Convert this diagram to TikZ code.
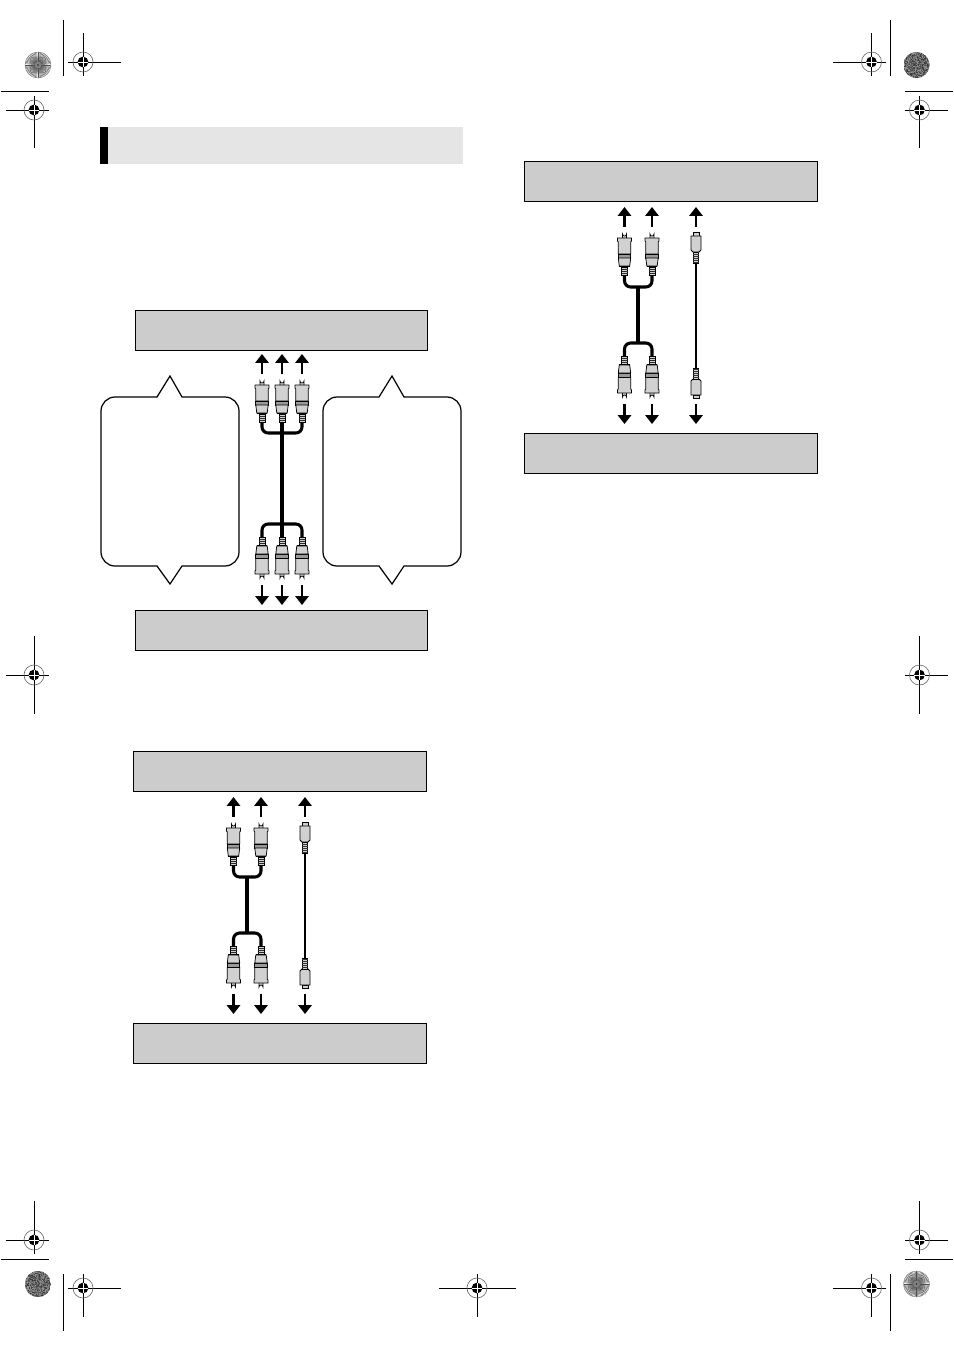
\documentclass[tikz,border=0pt]{standalone}
\usetikzlibrary{arrows.meta}

\definecolor{boxgray}{gray}{0.80}
\definecolor{bargray}{gray}{0.90}
\definecolor{plugmid}{gray}{0.60}
\definecolor{pluglight}{gray}{0.82}

\tikzset{
  panel/.style={draw=black, line width=0.65pt, fill=boxgray, minimum width=166.4pt, minimum height=22.6pt, inner sep=0pt, outer sep=0pt},
  flow/.style={line width=1.7pt, -{Triangle[length=5pt,width=7.4pt]}},
  cable/.style={line width=1.75pt, rounded corners=3.5pt},
  thincable/.style={line width=0.95pt},
  callout/.style={draw=black, line width=0.7pt},
  crop/.style={line width=0.55pt},
  plugpart/.style={draw=black, line width=0.42pt},
  rcaplug/.pic={
    \coordinate (-tail) at (0,43);
    \coordinate (-tip) at (0,-5);
    \coordinate (-head) at (0,-25);
    \filldraw[plugpart, fill=pluglight] (-2,6.5) -- (-2,2) arc (180:0:2) -- (2,6.5) -- cycle;
    \filldraw[plugpart, fill=pluglight] (-7,6) -- (7,6) -- (7,9) -- (6.2,10) -- (6.2,22) -- (-6.2,22) -- (-6.2,10) -- (-7,9) -- cycle;
    \filldraw[plugpart, fill=plugmid] (-6.2,22) rectangle (6.2,26);
    \filldraw[plugpart, fill=pluglight] (-6.2,26) -- (6.2,26) -- (5.2,34) -- (-5.2,34) -- cycle;
    \fill[black] (-5.2,34) rectangle (5.2,35);
    \filldraw[plugpart, fill=pluglight] (-3,35) rectangle (3,43);
    \foreach \hatch in {37,39,41}
      \draw[black!85, line width=0.5pt] (-3,\hatch) -- (3,\hatch);
  },
  splug/.pic={
    \coordinate (-tail) at (0,31);
    \coordinate (-tip) at (0,-5);
    \coordinate (-head) at (0,-25);
    \filldraw[plugpart, fill=pluglight] (-3,4) -- (-3,0.5) -- (3,0.5) -- (3,4) -- cycle;
    \filldraw[plugpart, fill=pluglight] (-5,4) -- (5,4) -- (5,18) -- (3,20) -- (-3,20) -- (-5,18) -- cycle;
    \filldraw[plugpart, fill=pluglight] (-2.6,20) rectangle (2.6,31);
    \foreach \hatch in {22,24,26,28,30}
      \draw[black!80, line width=0.5pt] (-2.6,\hatch) -- (2.6,\hatch);
  },
  target/.pic={
    \draw[black!60, line width=0.35pt] (0,0) circle (10);
    \fill[black] (0,0) circle (5.4);
    \draw[white, line width=0.25pt] (-5.4,0) -- (5.4,0) (0,-5.4) -- (0,5.4);
  },
  sunburst/.pic={
    \fill[white] (0,0) circle (13);
    \foreach \ang in {0,6,...,354}
      \draw[black!70, line width=0.25pt] (0,0) -- (\ang:13);
    \fill[black!50] (0,0) circle (3.5);
    \fill[black!85] (0,0) circle (0.8);
    \draw[black!45, line width=0.25pt] (0,0) circle (13);
  },
  noisedisc/.pic={
    \begin{scope}
      \clip (0,0) circle (13);
      \fill[black!60] (-13,-13) rectangle (13,13);
      \foreach \col in {-13,...,12}
        \foreach \row in {-13,...,12} {
          \pgfmathsetmacro{\shade}{40+random(0,40)}
          \fill[black!\shade] (\col,\row) rectangle ++(1.05,1.05);
        }
    \end{scope}
  }
}

\begin{document}
\begin{tikzpicture}[x=0.02cm, y=-0.02cm]
  \pgfmathsetseed{7}
  \useasboundingbox (0,0) rectangle (954,1350);

  % Heading bar
  \fill[bargray] (108,127) rectangle (463,164);
  \fill[black] (100,127) rectangle (108,164);

  % Corner discs
  \pic at (38,65) {sunburst};
  \pic at (916.5,1284) {sunburst};
  \pic at (916.5,65) {noisedisc};
  \pic at (38,1284) {noisedisc};

  % Crop lines
  \foreach \xa/\ya/\xb/\yb in {63/20/63/76, 1/91/49/91, 890.5/20/890.5/76, 905/91/953/91,
      1/1259/49/1259, 905/1259/953/1259, 63/1274/63/1331, 890.5/1274/890.5/1331,
      68/62/121/62, 83/33/83/76, 6/110/49/110, 34/96/34/148,
      833/62/886/62, 871.5/33/871.5/76, 905/110/948/110, 919.5/96/919.5/148,
      6/675/49/675, 34/636/34/714, 905/675/948/675, 919.5/636/919.5/714,
      6/1240/49/1240, 34/1201/34/1254, 905/1240/948/1240, 919.5/1201/919.5/1254,
      68/1288/121/1288, 83/1274/83/1317, 833/1288/886/1288, 871.5/1274/871.5/1317,
      439/1288/516/1288, 477/1274/477/1317}
    \draw[crop] (\xa,\ya) -- (\xb,\yb);

  % Registration targets
  \foreach \xa/\ya in {83/62, 34/110, 871.5/62, 919.5/110, 34/675, 919.5/675,
      34/1240, 919.5/1240, 83/1288, 871.5/1288, 477/1288}
    \pic at (\xa,\ya) {target};

  % Callouts beside the first cable
  \foreach \dx in {0,222} {
    \begin{scope}[shift={(\dx,0)}]
      \draw[callout] (157,397) -- (170,376) -- (182,397) [rounded corners=8pt] -- (239,397) -- (239,566) [sharp corners] -- (182,566) -- (170,584) -- (157,566) [rounded corners=8pt] -- (101,566) -- (101,397) [sharp corners] -- cycle;
    \end{scope}
  }

  % First cable, three plugs
  \node (atop) [panel] at (281.5,330.5) {};
  \node (abot) [panel] at (281.5,630.5) {};
  \foreach \name/\xa in {a1/262, a2/282, a3/302} {
    \pic (\name u) at (\xa,379) {rcaplug};
    \pic[yscale=-1] (\name d) at (\xa,580) {rcaplug};
    \draw[flow] (\name u-tip) -- (\name u-head);
    \draw[flow] (\name d-tip) -- (\name d-head);
  }
  \coordinate (ajt) at (282,433);
  \coordinate (ajb) at (282,524);
  \draw[cable] (a1u-tail) |- (ajt) -| (a3u-tail);
  \draw[cable] (a1d-tail) |- (ajb) -| (a3d-tail);
  \draw[cable] (a2u-tail) -- (a2d-tail);

  % Second and third cables, two plugs and a thin lead
  \foreach \grp/\dx/\dy in {b/0/0, c/391/-590} {
    \begin{scope}[shift={(\dx,\dy)}]
      \node (\grp top) [panel] at (280,771.5) {};
      \node (\grp bot) [panel] at (280,1043.5) {};
      \foreach \name/\xa in {1/233.5, 2/261} {
        \pic (\grp\name u) at (\xa,822) {rcaplug};
        \pic[yscale=-1] (\grp\name d) at (\xa,989) {rcaplug};
        \draw[flow] (\grp\name u-tip) -- (\grp\name u-head);
        \draw[flow] (\grp\name d-tip) -- (\grp\name d-head);
      }
      \coordinate (\grp jt) at (247,877);
      \coordinate (\grp jb) at (247,933);
      \draw[cable] (\grp 1u-tail) |- (\grp jt) -| (\grp 2u-tail);
      \draw[cable] (\grp 1d-tail) |- (\grp jb) -| (\grp 2d-tail);
      \draw[cable] (\grp jt) -- (\grp jb);
      \pic (\grp su) at (305,822) {splug};
      \pic[yscale=-1] (\grp sd) at (305,989) {splug};
      \draw[flow] (\grp su-tip) -- (\grp su-head);
      \draw[flow] (\grp sd-tip) -- (\grp sd-head);
      \draw[thincable] (\grp su-tail) -- (\grp sd-tail);
    \end{scope}
  }
\end{tikzpicture}
\end{document}
